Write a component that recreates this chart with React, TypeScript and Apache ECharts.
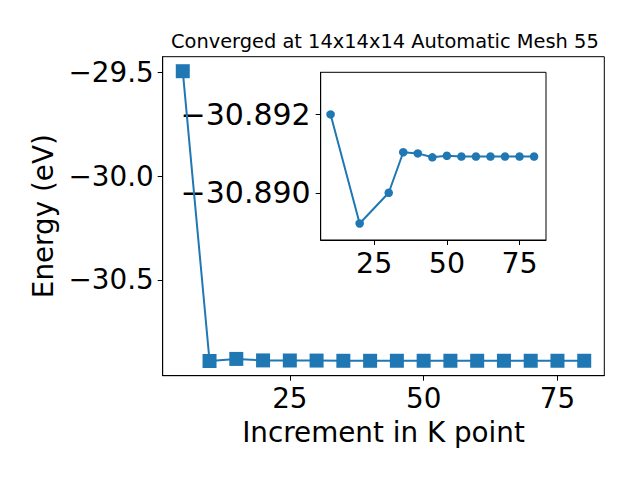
import React, { useEffect, useRef } from "react";
import * as echarts from "echarts";

const mainK = [5, 10, 15, 20, 25, 30, 35, 40, 45, 50, 55, 60, 65, 70, 75, 80];
const mainEnergy = [
  -29.4935, -30.892, -30.882, -30.8892, -30.8896, -30.89, -30.8910, -30.8910,
  -30.8909, -30.8909, -30.8909, -30.8909, -30.8909, -30.8909, -30.8909, -30.8909,
];
const insetK = [10, 20, 30, 35, 40, 45, 50, 55, 60, 65, 70, 75, 80];
const insetEnergy = [
  -30.89199, -30.88922, -30.89, -30.89103, -30.891, -30.8909, -30.89094,
  -30.89092, -30.89092, -30.89092, -30.89092, -30.89092, -30.89092,
];
const mainXTicks = [25, 50, 75];
const mainYTicks = [-29.5, -30.0, -30.5];
const insetXTicks = [25, 50, 75];
const insetYTicks = [-30.892, -30.89];

const title = "Converged at 14x14x14 Automatic Mesh 55";
const xName = "Increment in K point";
const yName = "Energy (eV)";

const FONT = "DejaVu Sans";
const BLUE = "#1f77b4";
const fmt = (d: number) => (v: number) => v.toFixed(d).replace("-", "\u2212");

export default function App() {
  const ref = useRef<HTMLDivElement>(null);
  useEffect(() => {
    if (!ref.current) return;
    const chart = echarts.init(ref.current, null, { renderer: "svg" });
    const axisCommon = {
      splitLine: { show: false },
      axisLine: { show: true, onZero: false, lineStyle: { color: "#000", width: 1 } },
      axisTick: { show: true, inside: false, length: 5, lineStyle: { color: "#000", width: 1 } },
    };
    const label = (d: number | null, margin: number, values: number[], size = 27.8) => ({
      show: true,
      color: "#000",
      fontFamily: FONT,
      fontSize: size,
      margin,
      customValues: values,
      formatter: d === null ? (v: number) => String(Math.round(v)) : fmt(d),
    });
    chart.setOption({
      animation: false,
      backgroundColor: "#fff",
      title: {
        text: title,
        left: 166,
        top: 27,
        textStyle: { fontFamily: FONT, fontSize: 19.4, fontWeight: "normal", color: "#000" },
      },
      grid: [
        { left: 162.7, top: 56.7, width: 441.6, height: 319, show: true, borderColor: "#000", borderWidth: 1, backgroundColor: "#fff" },
        { left: 320.7, top: 72.3, width: 225.3, height: 167.7, show: true, borderColor: "#000", borderWidth: 1, backgroundColor: "#fff" },
      ],
      xAxis: [
        {
          ...axisCommon,
          type: "value",
          gridIndex: 0,
          min: 1.25,
          max: 83.75,
          axisTick: { ...axisCommon.axisTick, customValues: mainXTicks },
          axisLabel: label(null, 9, mainXTicks),
          name: xName,
          nameLocation: "middle",
          nameGap: 43,
          nameTextStyle: { fontFamily: FONT, fontSize: 27.8, color: "#000" },
        },
        {
          ...axisCommon,
          type: "value",
          gridIndex: 1,
          min: 6.6,
          max: 84.1,
          axisTick: { ...axisCommon.axisTick, customValues: insetXTicks },
          axisLabel: label(null, 9, insetXTicks, 28.5),
        },
      ],
      yAxis: [
        {
          ...axisCommon,
          type: "value",
          gridIndex: 0,
          min: -30.963,
          max: -29.4235,
          axisTick: { ...axisCommon.axisTick, customValues: mainYTicks },
          axisLabel: label(1, 9, mainYTicks),
          name: yName,
          nameLocation: "middle",
          nameGap: 102,
          nameTextStyle: { fontFamily: FONT, fontSize: 27.8, color: "#000" },
        },
        {
          ...axisCommon,
          type: "value",
          gridIndex: 1,
          inverse: true,
          min: -30.89306,
          max: -30.8888,
          axisTick: { ...axisCommon.axisTick, customValues: insetYTicks },
          axisLabel: label(3, 10, insetYTicks, 30),
        },
      ],
      series: [
        {
          type: "line",
          xAxisIndex: 0,
          yAxisIndex: 0,
          data: mainK.map((k, i) => [k, mainEnergy[i]]),
          symbol: "rect",
          symbolSize: 14,
          itemStyle: { color: BLUE },
          lineStyle: { color: BLUE, width: 2 },
          z: 2,
        },
        {
          type: "line",
          xAxisIndex: 1,
          yAxisIndex: 1,
          data: insetK.map((k, i) => [k, insetEnergy[i]]),
          symbol: "circle",
          symbolSize: 8.5,
          itemStyle: { color: BLUE },
          lineStyle: { color: BLUE, width: 2 },
          z: 3,
        },
      ],
    });
    return () => chart.dispose();
  }, []);
  return (
    <div
      ref={ref}
      style={{ position: "fixed", left: 0, top: 0, width: 640, height: 480 }}
    />
  );
}
